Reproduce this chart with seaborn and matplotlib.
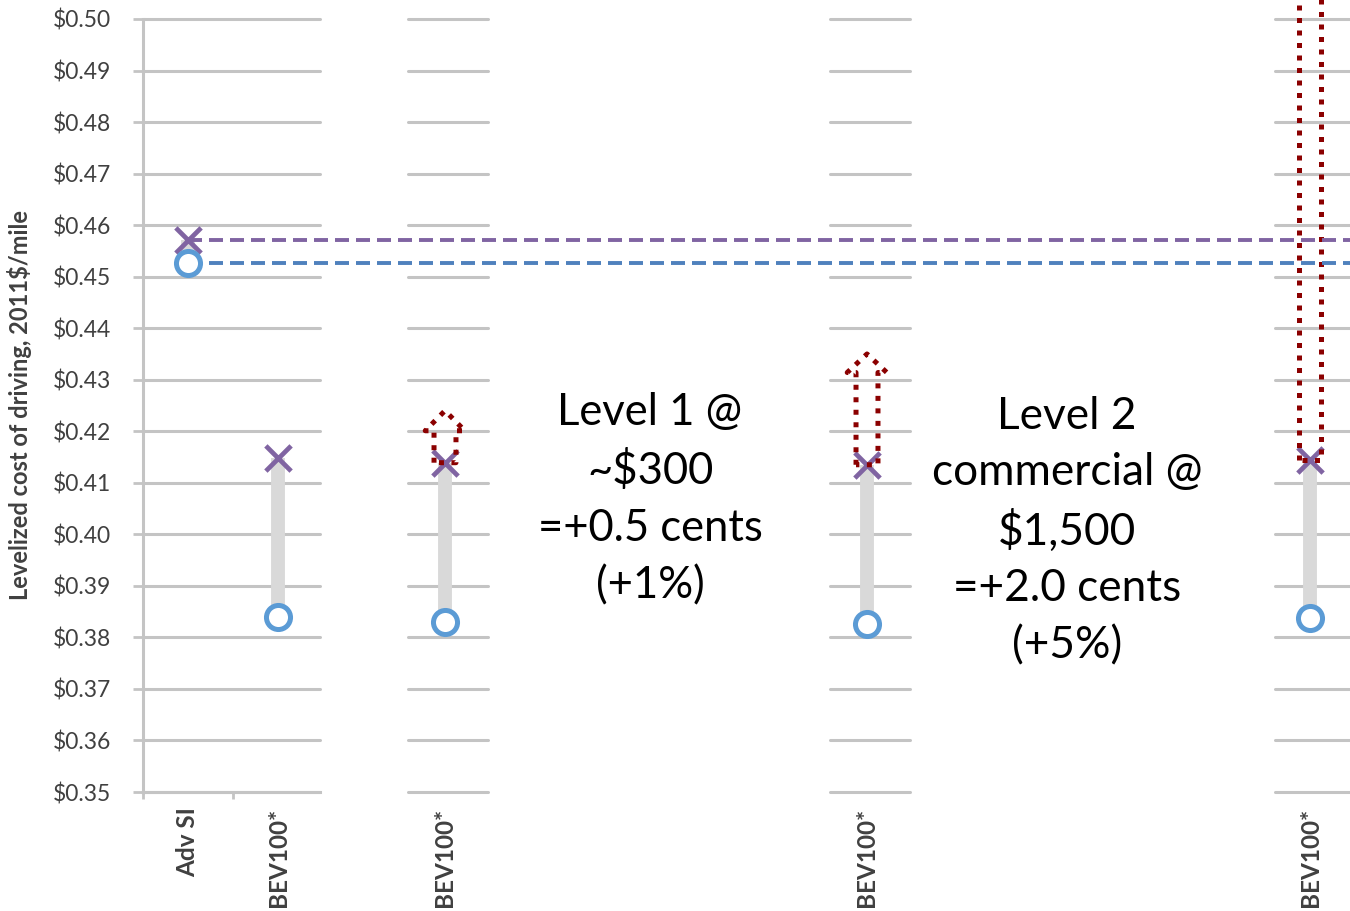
import numpy as np
import matplotlib
matplotlib.use("Agg")
import matplotlib.pyplot as plt
import seaborn as sns
from matplotlib.ticker import FixedLocator, FuncFormatter

# ---- data -----------------------------------------------------------------
vehicles = ["Adv SI", "BEV100*", "BEV100*", "BEV100*", "BEV100*"]
panel_of_vehicle = [0, 0, 1, 2, 3]
low_cost = [0.4527, 0.3840, 0.3830, 0.3826, 0.3838]    # circles
high_cost = [0.4572, 0.4149, 0.4139, 0.4135, 0.4145]   # crosses

# charging-cost arrows drawn above the BEV cross in these panels
arrow_panels = [1, 2, 3]
arrow_head_base = [0.4201, 0.4314, 0.515]
arrow_tip = [0.4240, 0.4350, 0.525]

y_ticks = [0.35, 0.36, 0.37, 0.38, 0.39, 0.40, 0.41, 0.42,
           0.43, 0.44, 0.45, 0.46, 0.47, 0.48, 0.49, 0.50]

y_label = "Levelized cost of driving, 2011$/mile"
note_level1 = "Level 1 @\n~$300\n=+0.5 cents\n(+1%)"
note_level2 = "Level 2\ncommercial @\n$1,500\n=+2.0 cents\n(+5%)"

# ---- style ----------------------------------------------------------------
sns.set_theme(style="white")
plt.rcParams["font.family"] = ["Lato", "DejaVu Sans"]

W, H = 1350, 911
GRID = "#c4c4c4"
TXT = "#404040"
PURPLE = "#8064A2"
BLUE_LINE = "#4F81BD"
BLUE_MARK = "#5B9BD5"
RANGE = "#d9d9d9"
ARROW = "#8B0000"

fig = plt.figure(figsize=(W / 100, H / 100), dpi=100)

# pixel geometry of the panel strips
y_top, y_bot = 19, 792
unit = 90.0  # pixels per category slot
panels = [  # left px, right px, first category centre px
    (143, 320, 188),
    (408, 488, 445),
    (830, 910, 867),
    (1275, 1350, 1310),
]

axes = []
for i, (lp, rp, cp) in enumerate(panels):
    ax = fig.add_axes([lp / W, (H - y_bot) / H, (rp - lp) / W, (y_bot - y_top) / H])
    ax.set_xlim(-(cp - lp) / unit, (rp - cp) / unit)
    ax.set_ylim(y_ticks[0], y_ticks[-1])
    ax.yaxis.set_major_locator(FixedLocator(y_ticks))
    ax.grid(axis="y", color=GRID, lw=2.2)
    ax.grid(axis="x", visible=False)
    ax.set_axisbelow(True)
    for gl in ax.get_ygridlines():
        gl.set_clip_on(False)
    for s in ax.spines.values():
        s.set_visible(False)
    if i == 0:
        ax.spines["left"].set_visible(True)
        ax.spines["left"].set_color(GRID)
        ax.spines["left"].set_linewidth(2.2)
        ax.yaxis.set_major_formatter(FuncFormatter(lambda v, p: f"${v:.2f}"))
        ax.tick_params(axis="y", which="major", left=True, length=7.2, width=2.0,
                       color=GRID, pad=16, labelsize=16.5, labelcolor=TXT)
        ax.set_zorder(3)
    else:
        ax.set_facecolor("none")
        ax.tick_params(axis="y", left=False, labelleft=False)
        ax.set_zorder(1)
    axes.append(ax)

# markers, range bars and category labels per panel
for i, ax in enumerate(axes):
    idx = [k for k, p in enumerate(panel_of_vehicle) if p == i]
    xs = list(range(len(idx)))
    lo = [low_cost[k] for k in idx]
    hi = [high_cost[k] for k in idx]
    ax.vlines(xs, lo, hi, color=RANGE, lw=10, zorder=2)
    sns.scatterplot(x=xs, y=hi, ax=ax, marker="x", color=PURPLE, s=330,
                    linewidth=3.4, zorder=5, clip_on=False, legend=False)
    sns.scatterplot(x=xs, y=lo, ax=ax, marker="o", color="white",
                    edgecolor=BLUE_MARK, s=300, linewidth=3.6, zorder=6,
                    clip_on=False, legend=False)
    ax.set_xticks(xs)
    ax.set_xticklabels([vehicles[k] for k in idx], rotation=90, fontsize=17.5,
                       fontweight="bold", color=TXT)
    ax.tick_params(axis="x", which="major", length=0, pad=11)
    if i == 0:
        ax.set_xticks([-0.5, 0.5], minor=True)
        ax.tick_params(axis="x", which="minor", bottom=True, length=5,
                       width=2.0, color=GRID)
        # bottom axis line
        ax.spines["bottom"].set_visible(True)
        ax.spines["bottom"].set_color(GRID)
        ax.spines["bottom"].set_linewidth(2.2)

# Adv SI reference levels carried across all panels
ax0 = axes[0]
far_right = (W - panels[0][0]) / unit
for val, col in [(high_cost[0], PURPLE), (low_cost[0], BLUE_LINE)]:
    ax0.plot([0, far_right], [val, val], color=col, lw=2.8, ls=(0, (3.6, 1.8)),
             clip_on=False, zorder=4)

# dotted arrows for the added charger cost
body_hw, head_hw = 0.122, 0.22
for p, hb, tip in zip(arrow_panels, arrow_head_base, arrow_tip):
    ax = axes[p]
    base = high_cost[panel_of_vehicle.index(p)]
    px = [-body_hw, -body_hw, -head_hw, 0, head_hw, body_hw, body_hw, -body_hw]
    py = [base, hb, hb, tip, hb, hb, base, base]
    ax.plot(px, py, color=ARROW, lw=3.6, ls=(0, (1, 1.5)), clip_on=False,
            zorder=7, solid_capstyle="butt", dash_capstyle="butt")

# axis title and notes
fig.text(20 / W, 1 - 405 / H, y_label, rotation=90, ha="center", va="center",
         fontsize=17, fontweight="bold", color=TXT)
fig.text(650 / W, 1 - 499 / H, note_level1, ha="center", va="center",
         fontsize=31.4, color="black", linespacing=1.49)
fig.text(1067 / W, 1 - 531 / H, note_level2, ha="center", va="center",
         fontsize=31.8, color="black", linespacing=1.47)

fig.savefig("out.png", dpi=100)
